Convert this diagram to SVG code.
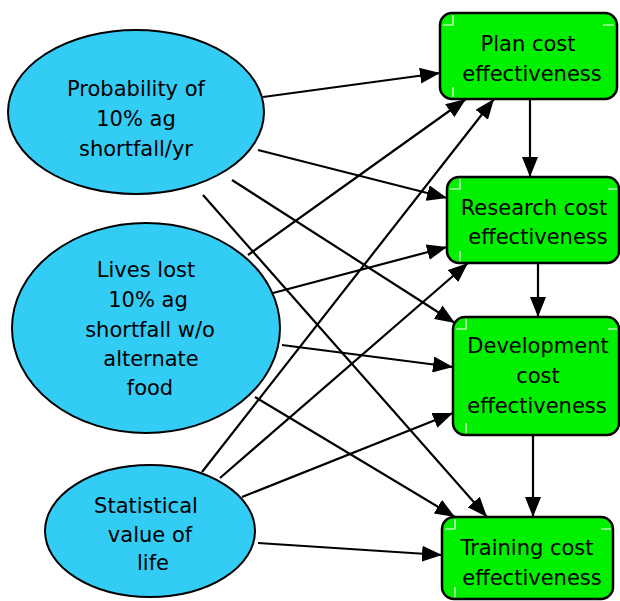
<svg xmlns="http://www.w3.org/2000/svg" width="620" height="601" viewBox="0 0 620 601">
<style>
.ell{fill:#33ccf5;stroke:#000;stroke-width:2}
.box{fill:#00f000;stroke:#000;stroke-width:2.5}
.mk{fill:none;stroke:#fff;stroke-width:1.2}
text{font-family:"DejaVu Sans",Verdana,sans-serif;font-size:21px;fill:#000;text-anchor:middle}
.c line{stroke:#000;stroke-width:2.2;marker-end:url(#ah)}
</style>
<defs>
<marker id="ah" markerUnits="userSpaceOnUse" markerWidth="22" markerHeight="16" refX="20" refY="8" orient="auto">
<path d="M0,0 L20,8 L0,16 z" fill="#000"/>
</marker>
</defs>
<rect width="620" height="601" fill="#fff"/>
<g class="c" id="connectors">
<line x1="263" y1="97" x2="440" y2="73"/>
<line x1="258" y1="150" x2="447" y2="198"/>
<line x1="232" y1="180" x2="455" y2="323"/>
<line x1="203" y1="195" x2="487" y2="517"/>
<line x1="248" y1="255" x2="466" y2="99"/>
<line x1="273" y1="293" x2="447" y2="247"/>
<line x1="282" y1="345" x2="453" y2="367"/>
<line x1="255" y1="397" x2="455" y2="517"/>
<line x1="202" y1="472" x2="494" y2="99"/>
<line x1="220" y1="478" x2="468" y2="263"/>
<line x1="242" y1="497" x2="453" y2="413"/>
<line x1="258" y1="543" x2="442" y2="555"/>
<line x1="530" y1="99" x2="530" y2="177"/>
<line x1="538" y1="263" x2="538" y2="317"/>
<line x1="533" y1="435" x2="533" y2="517"/>
</g>
<g id="prob">
<ellipse class="ell" cx="136" cy="112" rx="128" ry="82"/>
<text x="136" y="96">Probability of</text>
<text x="136" y="126">10% ag</text>
<text x="136" y="156">shortfall/yr</text>
</g>
<g id="lives">
<ellipse class="ell" cx="146" cy="328" rx="134" ry="105"/>
<text x="146" y="277">Lives lost</text>
<text x="148" y="307">10% ag</text>
<text x="150" y="337">shortfall w/o</text>
<text x="151" y="366">alternate</text>
<text x="150" y="395">food</text>
</g>
<g id="svl">
<ellipse class="ell" cx="150" cy="531" rx="105" ry="66"/>
<text x="146" y="513">Statistical</text>
<text x="150" y="542">value of</text>
<text x="153" y="570">life</text>
</g>
<g id="plan">
<rect class="box" x="440" y="13" width="177" height="86" rx="12"/>
<path class="mk" d="M443,25 H453 V15 M603,25 H614 M453,87 V97"/>
<text x="528" y="51">Plan cost</text>
<text x="532" y="81">effectiveness</text>
</g>
<g id="research">
<rect class="box" x="447" y="177" width="172" height="86" rx="12"/>
<path class="mk" d="M450,189 H460 V179 M608,189 H617 M460,251 V261"/>
<text x="534" y="215">Research cost</text>
<text x="538" y="244">effectiveness</text>
</g>
<g id="development">
<rect class="box" x="453" y="317" width="166" height="118" rx="12"/>
<path class="mk" d="M456,329 H466 V319 M608,329 H617 M466,423 V433"/>
<text x="538" y="353">Development</text>
<text x="538" y="383">cost</text>
<text x="537" y="413">effectiveness</text>
</g>
<g id="training">
<rect class="box" x="442" y="517" width="171" height="82" rx="12"/>
<path class="mk" d="M445,529 H455 V519 M601,529 H611 M455,587 V597"/>
<text x="527" y="555">Training cost</text>
<text x="532" y="585">effectiveness</text>
</g>
</svg>
